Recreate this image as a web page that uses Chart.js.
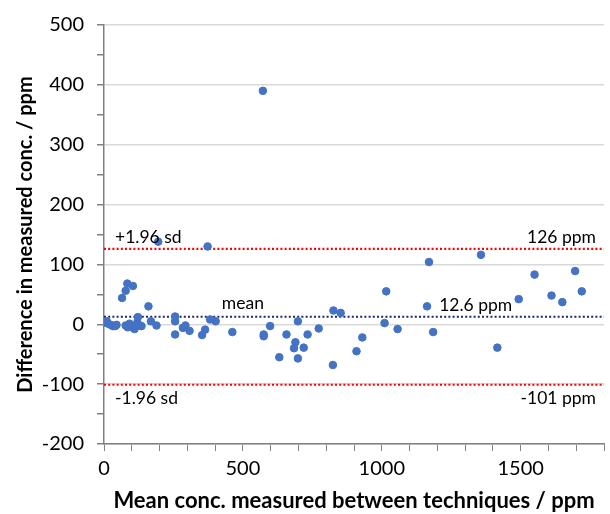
<!DOCTYPE html>
<html>
<head>
<meta charset="utf-8">
<script src="https://cdn.jsdelivr.net/npm/chart.js@4"></script>
<style>
  html, body { margin: 0; padding: 0; background: #fff; }
  #wrap { width: 610px; height: 514px; position: relative; }
</style>
</head>
<body>
<div id="wrap"><canvas id="bland-chart"></canvas></div>
<script>
// mean of the two techniques (ppm)
let meanConc = [2,10,15,25,32,40,45,65,78,84,104,78,85,92,100,110,115,120,122,128,135,160,169,189,
  195,256,256,256,284,293,308,353,364,373,382,402,462,
  572,575,575,598,631,657,684,689,698,698,719,733,773,824,826,852,909,930,
  1010,1016,1057,1163,1170,1185,1357,1416,1493,1550,1611,1650,1696,1720];
// difference between the two techniques (ppm)
let diffConc = [3,5,1,-1,-3,-3,-1,44,56,68,64,-2,-5,1,-5,-8,-3,3,12,-2,-3,30,5,-2,
  138,13,5,-17,-6,-2,-11,-18,-9,130,8,5,-13,
  390,-17,-20,-3,-55,-17,-40,-30,5,-57,-39,-17,-7,-68,23,19,-45,-22,
  2,55,-8,30,104,-13,116,-39,42,83,48,37,89,55];

let upperLoa = 126;
let meanDiff = 12.6;
let lowerLoa = -101;
let xMin = 0, xMax = 1800;
let yMin = -200, yMax = 500;

let points = meanConc.map(function(v, i){ return {x: v, y: diffConc[i]}; });

function hline(val){
  return [{x: xMin, y: val}, {x: xMax, y: val}];
}

// text next to the reference lines
let lineLabels = [
  {text: "+1.96 sd", value: upperLoa, side: "left", dy: -12},
  {text: "126 ppm", value: upperLoa, side: "right", dy: -12},
  {text: "mean", value: meanDiff, side: 500, dy: -13},
  {text: "12.6 ppm", value: meanDiff, side: 1338, dy: -11},
  {text: "-1.96 sd", value: lowerLoa, side: "left", dy: 14},
  {text: "-101 ppm", value: lowerLoa, side: "right", dy: 14}
];

let labelPlugin = {
  id: "lineLabels",
  afterDatasetsDraw: function(chart){
    let ctx = chart.ctx;
    let xs = chart.scales.x, ys = chart.scales.y;
    ctx.save();
    ctx.font = "17.5px Lato";
    ctx.fillStyle = "#000";
    ctx.textBaseline = "middle";
    lineLabels.forEach(function(l){
      let y = ys.getPixelForValue(l.value) + l.dy;
      if (l.side === "left") {
        ctx.textAlign = "left";
        ctx.fillText(l.text, chart.chartArea.left + 11, y);
      } else if (l.side === "right") {
        ctx.textAlign = "right";
        ctx.fillText(l.text, chart.chartArea.right - 8, y);
      } else {
        ctx.textAlign = "center";
        ctx.fillText(l.text, xs.getPixelForValue(l.side), y);
      }
    });
    ctx.restore();
  }
};

new Chart(document.getElementById("bland-chart"), {
  type: 'scatter',
  data: {
    datasets: [{
        data: points,
        backgroundColor: "#4472c4",
        borderColor: "#4472c4",
        pointRadius: 3.8,
        order: 0
      }, {
        data: hline(upperLoa),
        showLine: true,
        borderColor: "#ff0000",
        borderWidth: 2.2,
        borderDash: [2, 2.2],
        pointRadius: 0,
        order: 1
      }, {
        data: hline(meanDiff),
        showLine: true,
        borderColor: "#1a2a6c",
        borderWidth: 2.2,
        borderDash: [2, 2.2],
        pointRadius: 0,
        order: 1
      }, {
        data: hline(lowerLoa),
        showLine: true,
        borderColor: "#ff0000",
        borderWidth: 2.2,
        borderDash: [2, 2.2],
        pointRadius: 0,
        order: 1
      }
    ]
  },
  plugins: [labelPlugin],
  options: {
    responsive: true,
    maintainAspectRatio: false,
    animation: false,
    layout: { padding: { top: 24, right: 0, left: 0, bottom: 0 } },
    plugins: {
      legend: { display: false },
      tooltip: { enabled: false }
    },
    scales: {
      x: {
        type: 'linear',
        min: xMin,
        max: xMax,
        afterFit: function(s){ s.height = 70; },
        ticks: {
          stepSize: 100,
          autoSkip: false,
          maxRotation: 0,
          color: "#000",
          font: { family: "Lato", size: 20 },
          padding: 6,
          callback: function(v){ return v % 500 === 0 ? v : ""; }
        },
        grid: {
          drawOnChartArea: false,
          tickLength: 7,
          tickColor: "#808080"
        },
        border: { color: "#808080", width: 1.5 },
        title: {
          display: true,
          text: "Mean conc. measured between techniques / ppm",
          color: "#000",
          font: { family: "Lato", size: 22, weight: "bold" },
          padding: { top: 4, bottom: 0 }
        }
      },
      y: {
        min: yMin,
        max: yMax,
        afterFit: function(s){ s.width = 104; },
        ticks: {
          stepSize: 50,
          autoSkip: false,
          color: "#000",
          font: { family: "Lato", size: 20 },
          padding: 13,
          callback: function(v){ return v % 100 === 0 ? v : ""; }
        },
        grid: {
          color: function(c){ return c.tick && c.tick.value % 100 === 0 ? "#d9d9d9" : "rgba(0,0,0,0)"; },
          lineWidth: 1.5,
          tickLength: 7,
          tickColor: "#808080"
        },
        border: { color: "#808080", width: 1.5 },
        title: {
          display: true,
          text: "Difference in measured conc. / ppm",
          color: "#000",
          font: { family: "Lato", size: 20, weight: "bold" },
          padding: { top: 14, bottom: 0 }
        }
      }
    }
  }
});
</script>
</body>
</html>
